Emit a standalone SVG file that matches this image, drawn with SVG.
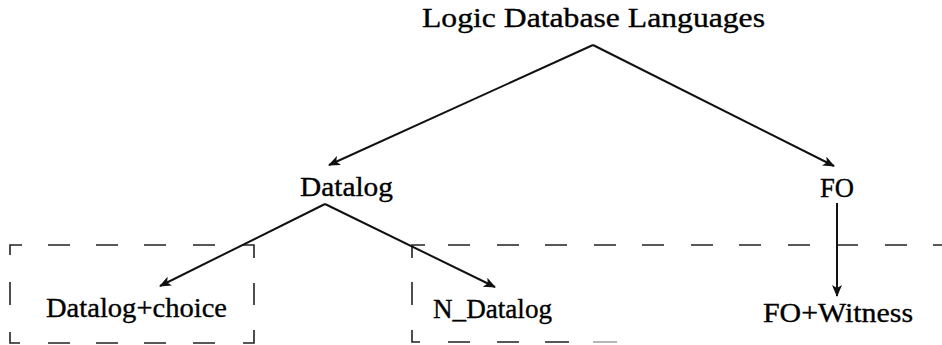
<svg xmlns="http://www.w3.org/2000/svg" width="942" height="345" viewBox="0 0 942 345">
<defs>
<style>
text{font-family:"Liberation Serif","DejaVu Serif",serif;font-size:28px;fill:#000;stroke:#000;stroke-width:0.35}
.c{stroke:#111;stroke-width:2;fill:none}
.d{stroke:#222;stroke-width:1.6;fill:none}
</style>
<marker id="ah" markerWidth="12" markerHeight="10" refX="11" refY="5" orient="auto" markerUnits="userSpaceOnUse">
<path d="M0,0 L12,5 L0,10 L3,5 Z" fill="#111"/>
</marker>
</defs>
<rect width="942" height="345" fill="#fff"/>
<g id="frame-left">
<path class="d" d="M10,255 V245 H22 M48,245 H70 M96,245 H118 M144,245 H166 M193,245 H215 M243,245 H254 V258 M254,283 V305 M254,330 V343 H243 M215,343 H193 M166,343 H144 M118,343 H96 M70,343 H48 M20,343 H10 V332 M10,305 V282"/>
</g>
<g id="frame-right">
<path class="d" d="M412,258 V245 H425 M448,245 H470 M497,245 H519 M545,245 H567 M594,245 H616 M642,245 H664 M691,245 H713 M739,245 H761 M788,245 H810 M836,245 H858 M885,245 H907 M933,245 H942 M412,282 V305 M412,330 V342 H420 M448,342 H470 M497,342 H519 M545,342 H569"/>
<path d="M593,342 H617" stroke="#999" stroke-width="1.4"/>
</g>
<g id="connectors">
<line class="c" x1="593" y1="45" x2="329" y2="165" marker-end="url(#ah)"/>
<line class="c" x1="593" y1="45" x2="834" y2="166" marker-end="url(#ah)"/>
<line class="c" x1="325" y1="204" x2="160" y2="286" marker-end="url(#ah)"/>
<line class="c" x1="325" y1="204" x2="495" y2="287" marker-end="url(#ah)"/>
<line class="c" x1="837" y1="203" x2="837" y2="296" marker-end="url(#ah)"/>
</g>
<g id="n-root"><text x="422" y="27" textLength="343" lengthAdjust="spacingAndGlyphs">Logic Database Languages</text></g>
<g id="n-datalog"><text x="300" y="196" textLength="93" lengthAdjust="spacingAndGlyphs">Datalog</text></g>
<g id="n-fo"><text x="820" y="197" textLength="34" lengthAdjust="spacingAndGlyphs">FO</text></g>
<g id="n-choice"><text x="46" y="317" textLength="181" lengthAdjust="spacingAndGlyphs">Datalog+choice</text></g>
<g id="n-ndatalog"><text x="433" y="318" textLength="119" lengthAdjust="spacingAndGlyphs">N_Datalog</text></g>
<g id="n-witness"><text x="763" y="322" textLength="150" lengthAdjust="spacingAndGlyphs">FO+Witness</text></g>
</svg>
